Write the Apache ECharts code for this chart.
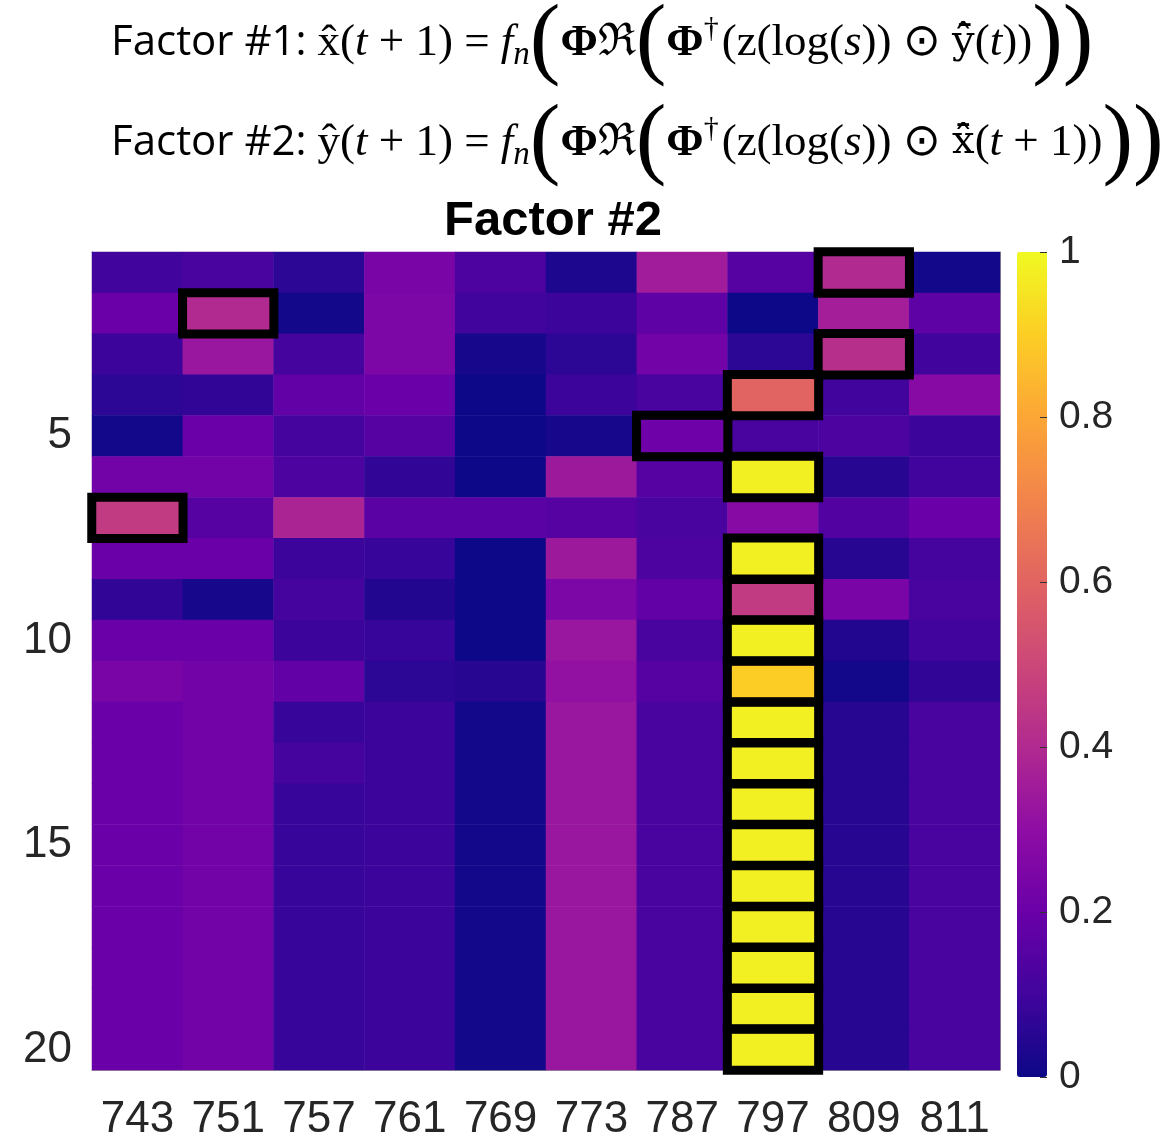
<!DOCTYPE html>
<html>
<head>
<meta charset="utf-8">
<title>Factor #2</title>
<script src="https://cdn.jsdelivr.net/npm/echarts@6/dist/echarts.min.js"></script>
<style>
  html, body { margin: 0; padding: 0; background: #fff; }
  #chart { width: 1168px; height: 1142px; }
</style>
</head>
<body>
<div id="chart"></div>
<script>
// column labels (x) and row labels (y)
var cols = ["743", "751", "757", "761", "769", "773", "787", "797", "809", "811"];
var rows = [];
for (var r = 1; r <= 20; r++) rows.push(String(r));

// cell values, one array per row (row 1 at top)
var values = [
  [0.10, 0.12, 0.06, 0.24, 0.13, 0.03, 0.35, 0.15, 0.40, 0.01],
  [0.20, 0.40, 0.01, 0.25, 0.10, 0.09, 0.17, 0.00, 0.36, 0.17],
  [0.09, 0.33, 0.11, 0.25, 0.02, 0.06, 0.22, 0.06, 0.42, 0.10],
  [0.06, 0.07, 0.18, 0.20, 0.00, 0.09, 0.12, 0.60, 0.10, 0.28],
  [0.01, 0.20, 0.11, 0.15, 0.00, 0.02, 0.21, 0.12, 0.13, 0.09],
  [0.22, 0.22, 0.13, 0.07, 0.00, 0.34, 0.15, 0.98, 0.05, 0.10],
  [0.46, 0.15, 0.38, 0.16, 0.16, 0.15, 0.12, 0.28, 0.14, 0.20],
  [0.20, 0.20, 0.09, 0.08, 0.00, 0.34, 0.13, 0.98, 0.05, 0.11],
  [0.07, 0.02, 0.11, 0.04, 0.00, 0.25, 0.18, 0.46, 0.24, 0.12],
  [0.20, 0.20, 0.09, 0.08, 0.00, 0.33, 0.12, 0.98, 0.04, 0.10],
  [0.24, 0.22, 0.18, 0.06, 0.05, 0.31, 0.15, 0.90, 0.01, 0.07],
  [0.20, 0.22, 0.08, 0.09, 0.01, 0.33, 0.12, 0.98, 0.05, 0.12],
  [0.20, 0.22, 0.11, 0.09, 0.01, 0.33, 0.12, 0.98, 0.05, 0.12],
  [0.20, 0.22, 0.08, 0.09, 0.01, 0.33, 0.12, 0.98, 0.05, 0.12],
  [0.20, 0.22, 0.08, 0.09, 0.01, 0.33, 0.12, 0.98, 0.05, 0.12],
  [0.20, 0.22, 0.08, 0.09, 0.01, 0.33, 0.12, 0.98, 0.05, 0.12],
  [0.20, 0.22, 0.08, 0.09, 0.01, 0.33, 0.12, 0.98, 0.05, 0.12],
  [0.20, 0.22, 0.08, 0.09, 0.01, 0.33, 0.12, 0.98, 0.05, 0.12],
  [0.20, 0.22, 0.08, 0.09, 0.01, 0.33, 0.12, 0.98, 0.05, 0.12],
  [0.20, 0.22, 0.08, 0.09, 0.01, 0.33, 0.12, 0.98, 0.05, 0.12]
];

// highlighted cells: [column label, row number]
var boxed = [
  ["809", 1], ["751", 2], ["809", 3], ["797", 4], ["787", 5], ["797", 6], ["743", 7],
  ["797", 8], ["797", 9], ["797", 10], ["797", 11], ["797", 12], ["797", 13], ["797", 14],
  ["797", 15], ["797", 16], ["797", 17], ["797", 18], ["797", 19], ["797", 20]
];

// colorbar ticks
var cbarMin = 0, cbarMax = 1, cbarStep = 0.2;

// plasma colormap
var plasma = ["#0d0887", "#41049d", "#6a00a8", "#8f0da4", "#b12a90", "#cc4778",
              "#e16462", "#f2844b", "#fca636", "#fcce25", "#f0f921"];

var cells = [];
values.forEach(function (row, ri) {
  row.forEach(function (v, ci) { cells.push([ci, ri, v]); });
});
var boxCells = boxed.map(function (b) {
  return [cols.indexOf(b[0]), b[1] - 1, 1];
});

var labelFont = "Liberation Sans, Arial, Helvetica, sans-serif";
var serif = "Liberation Serif, serif";
var every5 = function (i) { return (i + 1) % 5 === 0; };

function tok(o) {
  o.color = "#000";
  if (!o.fontWeight) o.fontWeight = "normal";
  if (!o.fontFamily) o.fontFamily = serif;
  return o;
}
var rich = {
  s: tok({ fontFamily: "Open Sans, Noto Sans, sans-serif", fontSize: 42 }),
  m: tok({ fontSize: 45 }),
  i: tok({ fontStyle: "italic", fontSize: 45 }),
  b: tok({ fontWeight: "bold", fontSize: 45 }),
  hb: tok({ fontFamily: "DejaVu Serif, serif", fontSize: 40 }),
  sub: tok({ fontStyle: "italic", fontSize: 33, padding: [24, 0, 0, 0] }),
  sup: tok({ fontSize: 30, padding: [0, 3, 28, 0] }),
  P: tok({ fontSize: 92 })
};

var line1 = "{s|Factor #1: }{m|x\u0302(}{i|t}{m| + 1) = }{i|f}{sub|n}{P|(}{b|\u03a6}{m|\u211c}{P|(}" +
  "{b|\u03a6}{sup|\u2020}{m|(z(log(}{i|s}{m|)) \u2299 }{hb|y\u0302\u0304}{m|(}{i|t}{m|))}{P|)}{P|)}";
var line2 = "{s|Factor #2: }{m|y\u0302(}{i|t}{m| + 1) = }{i|f}{sub|n}{P|(}{b|\u03a6}{m|\u211c}{P|(}" +
  "{b|\u03a6}{sup|\u2020}{m|(z(log(}{i|s}{m|)) \u2299 }{hb|x\u0302\u0304}{m|(}{i|t}{m| + 1))}{P|)}{P|)}";

var chart = echarts.init(document.getElementById("chart"));
chart.setOption({
  backgroundColor: "#fff",
  animation: false,
  title: [
    { text: line1, left: 106, top: -8, textStyle: { fontWeight: "normal", rich: rich } },
    { text: line2, left: 106, top: 92, textStyle: { fontWeight: "normal", rich: rich } },
    {
      text: "Factor #2", left: 548, top: 192, textAlign: "center",
      textStyle: { fontFamily: labelFont, fontWeight: "bold", fontSize: 49, color: "#000" }
    }
  ],
  grid: [
    { left: 92, top: 252, width: 908, height: 825, containLabel: false },
    { left: 1017, top: 252, width: 30, height: 825, show: false }
  ],
  xAxis: [
    {
      type: "category", data: cols, gridIndex: 0, position: "bottom",
      axisLine: { lineStyle: { color: "#999" } },
      axisTick: { alignWithLabel: true, length: 8, lineStyle: { color: "#888" } },
      axisLabel: { interval: 0, fontFamily: labelFont, fontSize: 44, color: "#262626", margin: 28 },
      splitLine: { show: false }
    },
    {
      type: "category", data: cols, gridIndex: 0, position: "top",
      axisLine: { lineStyle: { color: "#999" } },
      axisTick: { alignWithLabel: true, length: 7, lineStyle: { color: "#888" } },
      axisLabel: { show: false }, splitLine: { show: false }
    },
    { type: "value", gridIndex: 1, show: false, min: 0, max: 1 }
  ],
  yAxis: [
    {
      type: "category", data: rows, gridIndex: 0, inverse: true, position: "left",
      axisLine: { lineStyle: { color: "#999" } },
      axisTick: { alignWithLabel: true, interval: every5, length: 8, lineStyle: { color: "#888" } },
      axisLabel: { interval: every5, fontFamily: labelFont, fontSize: 44, color: "#262626", margin: 20 },
      splitLine: { show: false }
    },
    {
      type: "category", data: rows, gridIndex: 0, inverse: true, position: "right",
      axisLine: { lineStyle: { color: "#999" } },
      axisTick: { alignWithLabel: true, interval: every5, length: 8, lineStyle: { color: "#888" } },
      axisLabel: { show: false }, splitLine: { show: false }
    },
    {
      // colorbar labels
      type: "value", gridIndex: 1, position: "right", z: 20,
      min: cbarMin, max: cbarMax, interval: cbarStep,
      axisLine: { show: false }, axisTick: { show: false },
      axisLabel: { fontFamily: labelFont, fontSize: 39, color: "#262626", margin: 12 },
      splitLine: { show: false }
    },
    {
      // colorbar ticks on the bar's right edge, pointing into it
      type: "value", gridIndex: 1, position: "left", offset: -30, z: 20,
      min: cbarMin, max: cbarMax, interval: cbarStep,
      axisLine: { show: false },
      axisTick: { length: 7, lineStyle: { color: "#333" } },
      axisLabel: { show: false }, splitLine: { show: false }
    }
  ],
  visualMap: {
    type: "continuous", min: cbarMin, max: cbarMax, seriesIndex: 0,
    left: 1017, top: 252, itemWidth: 30, itemHeight: 825, padding: 0,
    calculable: false, orient: "vertical", z: 2,
    inRange: { color: plasma }
  },
  series: [
    {
      type: "heatmap", xAxisIndex: 0, yAxisIndex: 0, data: cells,
      emphasis: { disabled: true }, progressive: 0
    },
    {
      type: "heatmap", xAxisIndex: 0, yAxisIndex: 0, data: boxCells,
      itemStyle: { color: "rgba(0,0,0,0)", borderColor: "#000", borderWidth: 9 },
      emphasis: { disabled: true }, z: 5
    }
  ]
});
</script>
</body>
</html>
